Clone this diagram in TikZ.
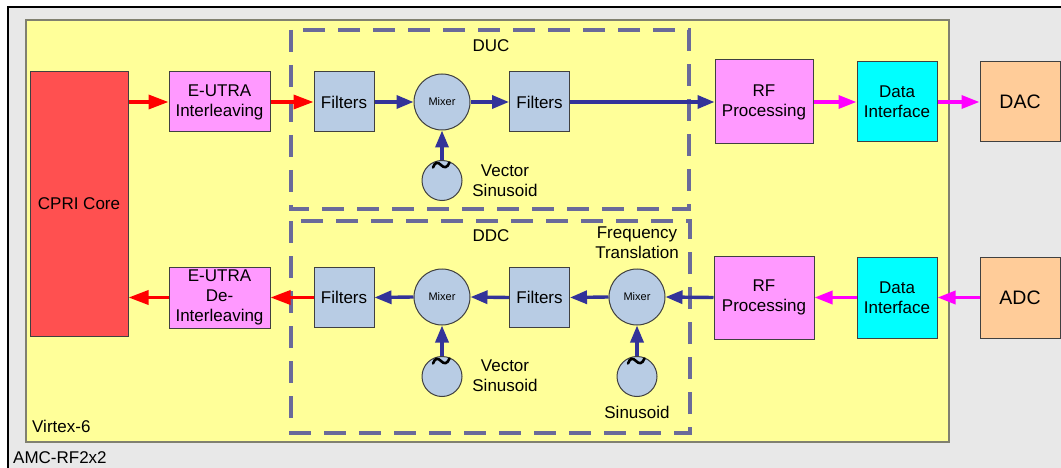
\documentclass[tikz,border=0pt]{standalone}
\usepackage{fontspec}
\setmainfont{Liberation Sans}
\usetikzlibrary{arrows.meta}
\definecolor{boardgray}{HTML}{E8E8E8}
\definecolor{fpgayellow}{HTML}{FFFF99}
\definecolor{fpgaedge}{HTML}{808070}
\definecolor{corered}{HTML}{FF5050}
\definecolor{procpink}{HTML}{FF99FF}
\definecolor{dspblue}{HTML}{B8CCE4}
\definecolor{ifcyan}{HTML}{00FFFF}
\definecolor{convorange}{HTML}{FFCC99}
\definecolor{groupdash}{HTML}{6A6A9A}
\definecolor{sigblue}{HTML}{333399}
\definecolor{sigmagenta}{HTML}{FF00FF}
\definecolor{sigred}{HTML}{FF0000}
\definecolor{boxline}{HTML}{404040}
\newcommand\bodyfont{\fontsize{17}{20}\selectfont}
\newcommand\smallmixfont{\fontsize{11}{13}\selectfont}
\newcommand\convfont{\fontsize{19.5}{22}\selectfont}
\tikzset{
  blk/.style={draw=boxline, line width=1pt, font=\bodyfont, align=center, inner sep=0pt},
  corebox/.style={blk, fill=corered},
  pinkbox/.style={blk, fill=procpink},
  filterbox/.style={blk, fill=dspblue, minimum width=60pt, minimum height=60pt},
  cyanbox/.style={blk, fill=ifcyan, minimum width=80pt},
  convbox/.style={blk, fill=convorange, minimum width=80pt, font=\convfont},
  mixer/.style={blk, circle, fill=dspblue, minimum size=56pt, font=\smallmixfont},
  osc/.style={blk, circle, fill=dspblue, minimum size=40pt},
  lbl/.style={font=\bodyfont, align=center, inner sep=0pt},
  group/.style={draw=groupdash, line width=3.2pt, dash pattern=on 22pt off 13pt},
  redflow/.style={draw=sigred, line width=3.4pt, -{Triangle[length=20pt,width=14pt]}},
  blueflow/.style={draw=sigblue, line width=3.4pt, -{Triangle[length=17pt,width=13pt]}},
  magflow/.style={draw=sigmagenta, line width=3.4pt, -{Triangle[length=18pt,width=13pt]}},
  sinewave/.pic={\draw[line width=2.6pt, line cap=round]
    (-9,-13) .. controls (-7,-19) and (-4,-18.5) .. (-1,-15.5)
    .. controls (2,-12.5) and (5,-12) .. (7.5,-18);}
}
\begin{document}
\begin{tikzpicture}[x=1pt,y=-1pt]
\useasboundingbox (0,0) rectangle (1061,468);
\clip (0,0) rectangle (1061,468);
% board and FPGA areas
\draw[fill=boardgray, draw=black, line width=2pt] (8,7) rectangle (1080,490);
\draw[fill=fpgayellow, draw=fpgaedge, line width=1.2pt] (26,20) rectangle (949,442);
\node[lbl, anchor=west] (virtex) at (32,426) {Virtex-6};
\node[lbl, anchor=west] (amc) at (13,458) {AMC-RF2x2};

% DUC / DDC groups
\draw[group] (291,30) rectangle (689,209);
\draw[group] (291,221) rectangle (690,433);
\node[lbl] (duc) at (491,46) {DUC};
\node[lbl] (ddc) at (491,236) {DDC};

% blocks
\node[corebox, minimum width=98pt, minimum height=264pt] (cpri) at (79,204) {CPRI Core};
\node[pinkbox, minimum width=101pt, minimum height=60pt] (eui) at (219.5,102) {E-UTRA\\Interleaving};
\node[pinkbox, minimum width=101pt, minimum height=61pt] (eud) at (219.5,297.5) {E-UTRA\\De-\\Interleaving};

\node[filterbox] (f1) at (344,102) {Filters};
\node[mixer] (m1) at (442,102) {Mixer};
\node[filterbox] (f2) at (539.5,102) {Filters};
\node[osc] (s1) at (442,180.5) {};
\pic at (s1.center) {sinewave};
\node[lbl] (vs1) at (505,181) {Vector\\Sinusoid};

\node[filterbox] (f3) at (344,297.5) {Filters};
\node[mixer] (m2) at (442,297) {Mixer};
\node[filterbox] (f4) at (539.5,297.5) {Filters};
\node[mixer] (m3) at (637,297) {Mixer};
\node[osc] (s2) at (442,376.5) {};
\pic at (s2.center) {sinewave};
\node[osc] (s3) at (637,376.5) {};
\pic at (s3.center) {sinewave};
\node[lbl] (vs2) at (505,376) {Vector\\Sinusoid};
\node[lbl] (sn3) at (637,412) {Sinusoid};
\node[lbl] (ft) at (637,243) {Frequency\\Translation};

\node[pinkbox, minimum width=98pt, minimum height=84pt] (rf1) at (764,102) {RF\\Processing};
\node[cyanbox, minimum height=80pt] (di1) at (897,102) {Data\\Interface};
\node[convbox, minimum height=80pt] (dac) at (1020,102) {DAC};
\node[pinkbox, minimum width=100pt, minimum height=83pt] (rf2) at (764,297.5) {RF\\Processing};
\node[cyanbox, minimum height=81pt] (di2) at (897,297.5) {Data\\Interface};
\node[convbox, minimum height=81pt] (adc) at (1020,297.5) {ADC};

% transmit path
\draw[redflow] (cpri.east |- eui.west) -- (eui.west);
\draw[redflow] (eui.east) -- (f1.west);
\draw[blueflow] (f1.east) -- (m1.west);
\draw[blueflow] (m1.east) -- (f2.west);
\draw[blueflow] (s1.north) -- (m1.south);
\draw[blueflow] (f2.east) -- (rf1.west);
\draw[magflow] (rf1.east) -- (di1.west);
\draw[magflow] (di1.east) -- (dac.west);

% receive path
\draw[magflow] (adc.west) -- (di2.east);
\draw[magflow] (di2.west) -- (rf2.east);
\draw[blueflow] (rf2.west) -- (m3.east);
\draw[blueflow] (s3.north) -- (m3.south);
\draw[blueflow] (m3.west) -- (f4.east);
\draw[blueflow] (f4.west) -- (m2.east);
\draw[blueflow] (s2.north) -- (m2.south);
\draw[blueflow] (m2.west) -- (f3.east);
\draw[redflow] (f3.west) -- (eud.east);
\draw[redflow] (eud.west) -- (cpri.east |- eud.west);
\end{tikzpicture}
\end{document}
